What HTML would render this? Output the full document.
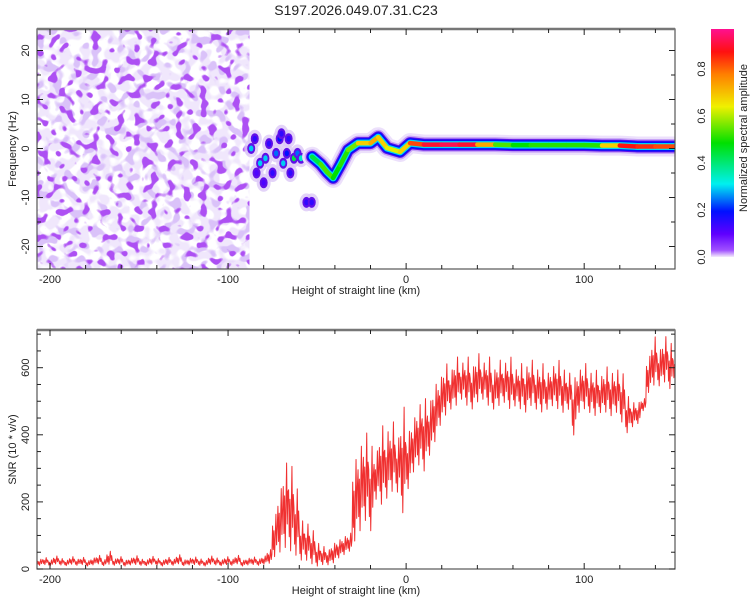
<!DOCTYPE html>
<html><head><meta charset="utf-8"><style>
html,body{margin:0;padding:0;background:#fff;}
svg{display:block;font-family:"Liberation Sans",sans-serif;}
</style></head><body>
<svg id="c" width="750" height="600" viewBox="0 0 750 600">
<defs>
<filter id="nLight" x="0" y="0" width="100%" height="100%">
<feTurbulence type="fractalNoise" baseFrequency="0.1" numOctaves="1" seed="3"/>
<feColorMatrix type="matrix" values="0 0 0 0 0.87  0 0 0 0 0.80  0 0 0 0 0.97  10 0 0 0 -4.4"/>
</filter>
<filter id="nMid" x="0" y="0" width="100%" height="100%">
<feTurbulence type="fractalNoise" baseFrequency="0.11" numOctaves="1" seed="27"/>
<feColorMatrix type="matrix" values="0 0 0 0 0.70  0 0 0 0 0.54  0 0 0 0 0.95  12 0 0 0 -6.5"/>
</filter>
<filter id="nDark" x="0" y="0" width="100%" height="100%">
<feTurbulence type="fractalNoise" baseFrequency="0.12" numOctaves="1" seed="11"/>
<feColorMatrix type="matrix" values="0 0 0 0 0.42  0 0 0 0 0.08  0 0 0 0 0.90  14 0 0 0 -8.0"/>
</filter>
<linearGradient id="cbar" x1="0" y1="1" x2="0" y2="0">
<stop offset="0" stop-color="#f4ecfc"/>
<stop offset="0.03" stop-color="#a050ff"/>
<stop offset="0.1" stop-color="#6000ff"/>
<stop offset="0.2" stop-color="#0010ff"/>
<stop offset="0.32" stop-color="#00f0f0"/>
<stop offset="0.5" stop-color="#00e000"/>
<stop offset="0.66" stop-color="#f0f000"/>
<stop offset="0.8" stop-color="#ff8000"/>
<stop offset="0.9" stop-color="#ff1010"/>
<stop offset="1" stop-color="#ff1090"/>
</linearGradient>
<clipPath id="clipTop"><rect x="37" y="29" width="638" height="240"/></clipPath>
<clipPath id="clipBot"><rect x="37" y="330" width="638" height="239"/></clipPath>
</defs>
<text x="356" y="15" text-anchor="middle" font-size="14" fill="#222">S197.2026.049.07.31.C23</text>
<g id="top"></g>
<g id="bot"></g>
<g id="cb"></g>
</svg>
<script>
// ---- spectrogram data ----
const ridgeKm = [-52.8,-48,-44.4,-41,-37,-32.6,-27,-20,-15.7,-10.7,-3.4,2.2,10,20,30,40,50,60,70,80,90,100,110,120,130,140,151];
const ridgeHz = [-1.7,-3.2,-4.8,-6,-3.4,-0.3,1.1,1.1,2.3,0.1,-0.7,1.1,0.8,0.8,0.8,0.8,0.8,0.7,0.7,0.7,0.7,0.7,0.6,0.6,0.4,0.4,0.4];
const ridgeAmp = [0.4,0.5,0.6,0.5,0.5,0.55,0.6,0.8,0.7,0.7,0.6,0.8,0.9,0.95,0.95,0.9,0.6,0.5,0.5,0.55,0.5,0.55,0.5,0.9,0.9,0.85,0.85];
const blobKm = [-87,-85,-82,-79,-77,-75,-73,-71,-69,-67,-65,-63,-61,-59,-56,-53,-80,-70,-84,-66];
const blobHz = [0,2,-3,-2,1,-5,-1,2,-3,-1,-5,-2,-1,-2,-11,-11,-7,3,-5,2];
const blobAmp = [0.3,0.15,0.3,0.3,0.15,0.15,0.25,0.2,0.3,0.2,0.15,0.45,0.25,0.35,0.15,0.15,0.12,0.15,0.12,0.15];
// ---- SNR data (3 km bins from -207) ----
const snrStartKm = -207, snrStepKm = 3;
const snrLow = [10,12,8,14,11,9,13,10,12,8,11,14,9,12,10,13,8,11,12,10,9,13,11,8,12,10,14,9,11,12,10,8,13,11,9,12,10,14,8,11,12,10,13,
 15,30,40,50,40,30,20,20,10,5,10,10,15,30,40,50,70,100,130,100,200,180,200,220,220,150,230,280,300,280,330,370,420,450,470,480,500,
 480,470,490,500,480,470,480,490,470,480,470,460,480,470,460,470,480,470,460,470,390,460,470,460,450,460,460,450,460,430,400,420,430,470,520,540,540,550,530,550];
const snrHigh = [30,35,28,40,32,27,38,30,36,26,34,42,29,55,31,38,27,33,41,30,28,39,32,27,36,30,44,28,33,37,31,26,40,34,28,38,30,42,27,33,37,31,40,
 60,170,250,330,320,250,150,140,120,80,70,60,80,90,100,110,340,380,420,380,360,440,420,450,400,500,420,460,500,520,510,560,580,620,600,640,620,
 640,610,650,620,640,600,630,620,640,600,620,610,630,600,620,590,610,630,600,590,580,600,620,590,600,580,610,590,600,590,520,500,500,510,640,700,660,700,680,650,640];

const NS='http://www.w3.org/2000/svg';
function mk(tag, attrs, parent){const e=document.createElementNS(NS,tag);for(const k in attrs)e.setAttribute(k,attrs[k]);parent.appendChild(e);return e;}
const X0=37,X1=675,KM0=-207.3,KM1=151;
const xs = km => X0+(km-KM0)/(KM1-KM0)*(X1-X0);
const ysTop = hz => 148.5-hz*4.9;
const ysBot = v => 569-v*0.3355;

function cmap(a){
 const st=[[0,[244,236,252]],[0.03,[160,80,255]],[0.1,[96,0,255]],[0.2,[0,16,255]],[0.32,[0,240,240]],[0.5,[0,224,0]],[0.66,[240,240,0]],[0.8,[255,128,0]],[0.9,[255,16,16]],[1,[255,16,144]]];
 for(let i=1;i<st.length;i++){if(a<=st[i][0]){const t=(a-st[i-1][0])/(st[i][0]-st[i-1][0]);const c=st[i-1][1].map((v,j)=>Math.round(v+(st[i][1][j]-v)*t));return 'rgb('+c.join(',')+')';}}
 return 'rgb(255,16,144)';
}

const topG=document.getElementById('top');
const gt=mk('g',{'clip-path':'url(#clipTop)'},topG);
const nl=mk('rect',{x:37,y:29,width:xs(-88)-37,height:240,filter:'url(#nLight)'},gt);


const nm=mk('rect',{x:37,y:29,width:xs(-88)-37,height:240,filter:'url(#nMid)'},gt);


const nd=mk('rect',{x:37,y:29,width:xs(-88)-37,height:240,filter:'url(#nDark)'},gt);


for(let i=0;i<blobKm.length;i++){
 const cx=xs(blobKm[i]),cy=ysTop(blobHz[i]);
 const h=mk('ellipse',{cx,cy,rx:7,ry:9,fill:'#dcc8f6',opacity:0.8},gt);
 
 
}
for(let i=0;i<blobKm.length;i++){
 const cx=xs(blobKm[i]),cy=ysTop(blobHz[i]);
 const b=mk('ellipse',{cx,cy,rx:4,ry:5.5,fill:'#6010e8'},gt);
 
 
 const c=mk('ellipse',{cx,cy,rx:2.2,ry:3,fill:cmap(blobAmp[i])},gt);
 
 
}
const pts=ridgeKm.map((k,i)=>xs(k).toFixed(1)+','+ysTop(ridgeHz[i]).toFixed(1)).join(' ');
[[20,'#ece0fb'],[15,'#c8a4f7'],[12,'#6010e8'],[10,'#0010ff'],[7,'#00d8f0']].forEach(([w,c])=>{
 const p=mk('polyline',{points:pts,fill:'none',stroke:c,'stroke-width':w,'stroke-linejoin':'round','stroke-linecap':'round'},gt);
 
 
});
for(let i=0;i<ridgeKm.length-1;i++){
 const s=mk('line',{x1:xs(ridgeKm[i]),y1:ysTop(ridgeHz[i]),x2:xs(ridgeKm[i+1]),y2:ysTop(ridgeHz[i+1]),stroke:cmap((ridgeAmp[i]+ridgeAmp[i+1])/2),'stroke-width':4.5,'stroke-linecap':'round'},gt);
 
 
}

function axes(g,y0,y1,yTicksMinor,yMajor,ysf,yLabels,xTitle,yTitle){
 const fr=mk('rect',{x:X0,y:y0,width:X1-X0,height:y1-y0,fill:'none',stroke:'#555','stroke-width':1.2},g);
 
 
 mk('line',{x1:X0,y1:y0,x2:X1,y2:y0,stroke:'#777','stroke-width':2.5},g);
 for(let k=-200;k<=150;k+=20){
  const x=xs(k);const L=(k%100===0)?6:4;
  mk('line',{x1:x,y1:y1,x2:x,y2:y1-L,stroke:'#222'},g);
  mk('line',{x1:x,y1:y0,x2:x,y2:y0+L,stroke:'#222'},g);
 }
 [-200,-100,0,100].forEach(k=>{
  const t=mk('text',{x:xs(k),y:y1+14,'text-anchor':'middle','font-size':11,fill:'#222'},g);t.textContent=k;
  
  
 });
 const xt=mk('text',{x:356,y:y1+25,'text-anchor':'middle','font-size':11,fill:'#222'},g);xt.textContent=xTitle;
 
 
 yTicksMinor.forEach(v=>{
  const y=ysf(v);const L=(v%yMajor===0)?6:4;
  mk('line',{x1:X0,y1:y,x2:X0+L,y2:y,stroke:'#222'},g);
  mk('line',{x1:X1,y1:y,x2:X1-L,y2:y,stroke:'#222'},g);
 });
 yLabels.forEach(v=>{
  const y=ysf(v);
  const t=mk('text',{x:0,y:0,'text-anchor':'middle','font-size':11,fill:'#222',transform:'translate(29,'+y+') rotate(-90)'},g);t.textContent=v;
  
  
 });
 const yt=mk('text',{x:0,y:0,'text-anchor':'middle','font-size':11,fill:'#222',transform:'translate(16,'+((y0+y1)/2)+') rotate(-90)'},g);yt.textContent=yTitle;
 
 
}
const topTicks=[];for(let v=-20;v<=20;v+=5)topTicks.push(v);
axes(topG,29,269,topTicks,10,ysTop,[-20,-10,0,10,20],'Height of straight line (km)','Frequency (Hz)');

const botG=document.getElementById('bot');
const gb=mk('g',{'clip-path':'url(#clipBot)'},botG);
let d='';
const mixW=[0.7,0.2,0.6,0.05,0.5,0.95,0.3,0.65];
for(let i=0;i<snrLow.length;i++){
 const k=snrStartKm+i*snrStepKm, lo=snrLow[i], hi=snrHigh[i];
 mixW.forEach((w,j)=>{const v=lo+(hi-lo)*w;d+=(d?'L':'M')+xs(k+j*snrStepKm/mixW.length).toFixed(2)+','+ysBot(v).toFixed(2);});
}
const ln=mk('path',{d:d,fill:'none',stroke:'#f03030','stroke-width':1,'stroke-linejoin':'round'},gb);


const botTicks=[];for(let v=0;v<=700;v+=50)botTicks.push(v);
axes(botG,330,569,botTicks,200,ysBot,[0,200,400,600],'Height of straight line (km)','SNR (10 * v/v)');

const cbG=document.getElementById('cb');
const cr=mk('rect',{x:711,y:29,width:23,height:228,fill:'url(#cbar)'},cbG);


const cbLabels=[0.0,0.2,0.4,0.6,0.8];
cbLabels.forEach(v=>{
 const y=257-v*235;
 const t=mk('text',{x:0,y:0,'text-anchor':'middle','font-size':11,fill:'#222',transform:'translate(705,'+y+') rotate(-90)'},cbG);t.textContent=v.toFixed(1);
 
 
});
const ct=mk('text',{x:0,y:0,'text-anchor':'middle','font-size':11,fill:'#222',transform:'translate(747,138) rotate(-90)'},cbG);ct.textContent='Normalized spectral amplitude';


</script>
</body></html>
